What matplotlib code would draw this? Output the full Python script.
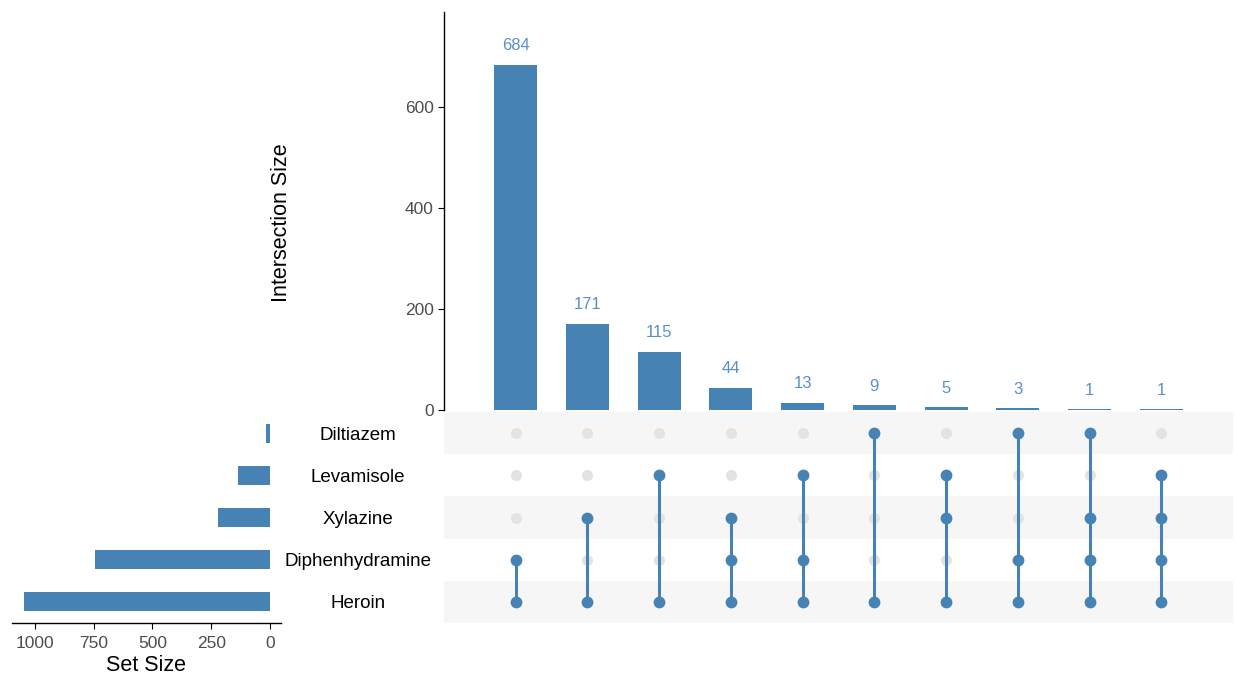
import matplotlib
matplotlib.use("Agg")
import matplotlib.pyplot as plt
import numpy as np

plt.rcParams['font.family'] = ['Liberation Sans', 'DejaVu Sans']

# Sets, listed from the top row of the matrix to the bottom row
sets = ["Diltiazem", "Levamisole", "Xylazine", "Diphenhydramine", "Heroin"]
set_sizes = [18, 134, 222, 746, 1046]

# Intersections (ordered by size) and the sets each one contains
intersection_sizes = [684, 171, 115, 44, 13, 9, 5, 3, 1, 1]
intersection_members = [
    ["Heroin", "Diphenhydramine"],
    ["Heroin", "Xylazine"],
    ["Heroin", "Levamisole"],
    ["Heroin", "Diphenhydramine", "Xylazine"],
    ["Heroin", "Diphenhydramine", "Levamisole"],
    ["Heroin", "Diltiazem"],
    ["Heroin", "Xylazine", "Levamisole"],
    ["Heroin", "Diphenhydramine", "Diltiazem"],
    ["Heroin", "Diphenhydramine", "Xylazine", "Diltiazem"],
    ["Heroin", "Diphenhydramine", "Xylazine", "Levamisole"],
]

BAR = "#4682B4"
LABEL = "#5B8FCB"
INACTIVE = "#E3E3E3"
STRIPE = "#F6F6F6"
TICK = "#4D4D4D"

W, H = 1236, 680
fig = plt.figure(figsize=(W / 100, H / 100), dpi=100)

def box(x0, y0, x1, y1):
    return [x0 / W, 1 - y1 / H, (x1 - x0) / W, (y1 - y0) / H]

n = len(intersection_sizes)
xs = np.arange(1, n + 1)
row_y = {s: len(sets) - 1 - i for i, s in enumerate(sets)}

# --- intersection size bars ---
ax_bar = fig.add_axes(box(444, 12, 1233, 410))
ax_bar.bar(xs, intersection_sizes, width=0.6, color=BAR)
for x, v in zip(xs, intersection_sizes):
    ax_bar.annotate(str(v), (x, v), xytext=(0, 14), textcoords="offset points",
                    ha="center", va="center", color=LABEL, fontsize=12)
ax_bar.set_xlim(0, n + 1)
ax_bar.set_ylim(0, 788)
ax_bar.set_yticks([0, 200, 400, 600])
ax_bar.set_xticks([])
for s in ["top", "right", "bottom"]:
    ax_bar.spines[s].set_visible(False)
ax_bar.spines["left"].set_linewidth(1.0)
ax_bar.tick_params(axis="y", labelsize=12.5, labelcolor=TICK, length=4, width=0.8)
ax_bar.set_ylabel("Intersection Size", fontsize=15.5)
ax_bar.yaxis.set_label_coords(-0.193, 0.47)

# --- matrix ---
ax_m = fig.add_axes(box(444, 412, 1233, 623))
ax_m.set_xlim(0, n + 1)
ax_m.set_ylim(-0.5, len(sets) - 0.5)
for s in sets:
    y = row_y[s]
    if sets.index(s) % 2 == 0:
        ax_m.axhspan(y - 0.5, y + 0.5, color=STRIPE, zorder=0, lw=0)
for x, members in zip(xs, intersection_members):
    ys = [row_y[s] for s in sets]
    active = [row_y[s] for s in members]
    inactive = [y for y in ys if y not in active]
    ax_m.plot([x] * len(inactive), inactive, "o", color=INACTIVE, ms=8,
              mec="none", zorder=2)
    ax_m.plot([x, x], [min(active), max(active)], "-", color=BAR, lw=2.2, zorder=3)
    ax_m.plot([x] * len(active), active, "o", color=BAR, ms=8.5, mec="none", zorder=4)
ax_m.axis("off")

# --- set names ---
for s in sets:
    y = row_y[s]
    fig.text(358 / W, 1 - (414 + (len(sets) - 1 - y + 0.5) * 211 / len(sets)) / H, s,
             ha="center", va="center", fontsize=13.5)

# --- set size bars ---
ax_s = fig.add_axes(box(12, 412, 281, 623))
ax_s.barh([row_y[s] for s in sets], set_sizes, height=0.45, color=BAR)
ax_s.set_ylim(-0.5, len(sets) - 0.5)
ax_s.set_xlim(1098, -47)
ax_s.set_xticks([1000, 750, 500, 250, 0])
ax_s.set_yticks([])
for s in ["top", "right", "left"]:
    ax_s.spines[s].set_visible(False)
ax_s.spines["bottom"].set_linewidth(1.0)
ax_s.tick_params(axis="x", labelsize=12.5, labelcolor=TICK, length=4, width=0.8, pad=5)
ax_s.set_xlabel("Set Size", fontsize=15.5, labelpad=3)

fig.savefig("out.png", dpi=100)
